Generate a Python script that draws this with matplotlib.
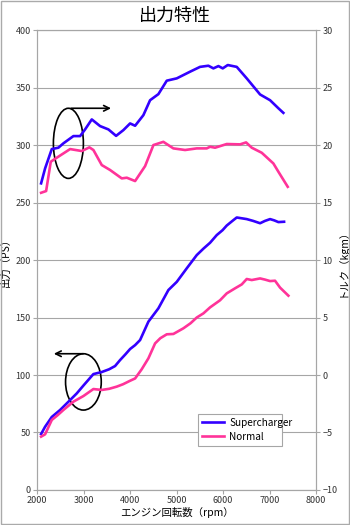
import matplotlib
matplotlib.use("Agg")
import matplotlib.pyplot as plt
from matplotlib.patches import Ellipse

plt.rcParams["font.family"] = ["Noto Sans CJK JP", "DejaVu Sans"]

# 出力 (PS)
sc_ps_rpm = [2086, 2172, 2316, 2495, 2680, 2853, 3000, 3211, 3391, 3550, 3677, 3785, 3900,
             4000, 4108, 4215, 4394, 4609, 4824, 5004, 5219, 5434, 5580, 5720, 5864, 5990,
             6079, 6200, 6294, 6509, 6650, 6796, 6900, 7011, 7100, 7190, 7312]
sc_ps = [48.7, 55, 63.5, 69.6, 77, 84, 91, 100.8, 102.6, 105, 107.8, 113, 118,
         122.6, 126, 130.4, 146.4, 158, 173.9, 181, 192.8, 204.3, 210, 215, 221.7, 226,
         230, 234, 237, 235.6, 234, 232, 234, 235.6, 234.5, 233, 233.3]

nm_ps_rpm = [2086, 2172, 2316, 2440, 2566, 2781, 2996, 3211, 3391, 3550, 3714, 3850, 4000,
             4108, 4250, 4394, 4538, 4650, 4789, 4931, 5146, 5300, 5434, 5577, 5720, 5935,
             6079, 6258, 6402, 6509, 6617, 6796, 6900, 7011, 7118, 7226, 7405]
nm_ps = [46.4, 48.4, 60.9, 65, 69.6, 76.8, 81.7, 87.8, 87, 88, 89.9, 92, 95,
         97, 105, 114.5, 127.5, 132, 135.4, 135.7, 140.6, 145, 150, 153.6, 158.8, 165,
         171, 175.4, 178.8, 183.5, 182.6, 184, 183, 181.7, 182, 176, 169]

# トルク (kgm)
sc_tq_rpm = [2086, 2172, 2316, 2458, 2566, 2781, 2925, 3032, 3176, 3355, 3534, 3699, 3856,
             4000, 4108, 4286, 4430, 4609, 4789, 5004, 5290, 5505, 5684, 5792, 5900, 5993,
             6101, 6294, 6509, 6796, 7011, 7190, 7297]
sc_tq = [16.67, 17.97, 19.65, 19.77, 20.15, 20.78, 20.78, 21.36, 22.23, 21.65, 21.36, 20.8, 21.3,
         21.88, 21.68, 22.6, 23.9, 24.43, 25.6, 25.8, 26.38, 26.8, 26.9, 26.67, 26.87, 26.67,
         26.96, 26.8, 25.8, 24.4, 23.9, 23.2, 22.8]

nm_tq_rpm = [2086, 2194, 2294, 2423, 2710, 2961, 3125, 3211, 3391, 3570, 3821, 3929, 4108,
             4323, 4502, 4716, 4931, 5183, 5434, 5649, 5720, 5828, 6079, 6366, 6495, 6617,
             6832, 7082, 7190, 7391]
nm_tq = [15.85, 16.0, 18.55, 18.9, 19.65, 19.48, 19.8, 19.57, 18.26, 17.83, 17.1, 17.16, 16.87,
         18.17, 20.0, 20.28, 19.71, 19.57, 19.71, 19.71, 19.85, 19.77, 20.09, 20.06, 20.23, 19.77,
         19.33, 18.4, 17.68, 16.37]

blue = "#3300ff"
pink = "#ff3399"
grid_c = "#a6a6a6"

fig = plt.figure(figsize=(3.5, 5.25), dpi=100)
fig.patches.append(plt.Rectangle((0.003, 0.002), 0.994, 0.996, transform=fig.transFigure,
                                 fill=False, edgecolor="#aaaaaa", linewidth=1.0))
ax = fig.add_axes([0.106, 0.0667, 0.797, 0.876])
ax2 = ax.twinx()

ax.plot(sc_ps_rpm, sc_ps, color=blue, lw=1.9, label="Supercharger")
ax.plot(nm_ps_rpm, nm_ps, color=pink, lw=1.9, label="Normal")
ax2.plot(sc_tq_rpm, sc_tq, color=blue, lw=1.9)
ax2.plot(nm_tq_rpm, nm_tq, color=pink, lw=1.9)

ax.set_xlim(2000, 8000)
ax.set_ylim(0, 400)
ax2.set_ylim(-10, 30)
ax.set_xticks(range(2000, 8001, 1000))
ax.set_yticks(range(0, 401, 50))
ax2.set_yticks(range(-10, 31, 5))
ax.yaxis.grid(True, color=grid_c, lw=0.8)
ax.set_axisbelow(True)

for a in (ax, ax2):
    for s in a.spines.values():
        s.set_color(grid_c)
    a.tick_params(labelsize=6.5, colors=grid_c, labelcolor="#333333", length=3, width=0.8, pad=1.5)

ax.set_xlabel("エンジン回転数（rpm）", fontsize=7.5, labelpad=1)
ax.set_ylabel("出力（PS）", fontsize=7.5)
ax2.set_ylabel("トルク（kgm）", fontsize=7.5)
ax.yaxis.set_label_coords(-0.095, 0.5)
ax2.yaxis.set_label_coords(1.075, 0.5)
fig.text(0.5, 1 - 16 / 525, "出力特性", fontsize=13, ha="center", va="center")

# 楕円と矢印
ax.add_patch(Ellipse((2673, 301.5), 645, 61, fill=False, edgecolor="black", lw=1.2))
ax.annotate("", xy=(3650, 332), xytext=(2673, 332),
            arrowprops=dict(arrowstyle="->", color="black", lw=1.2))
ax.add_patch(Ellipse((2996, 94), 768, 49, fill=False, edgecolor="black", lw=1.2))
ax.annotate("", xy=(2300, 118.5), xytext=(3050, 118.5),
            arrowprops=dict(arrowstyle="->", color="black", lw=1.2))

leg = ax.legend(loc="lower left", bbox_to_anchor=(0.56, 0.085, 0.337, 0.07), mode="expand",
                fontsize=7.2, fancybox=False, framealpha=1, edgecolor=grid_c,
                handlelength=2.2, borderpad=0.4, labelspacing=0.4, handletextpad=0.5)
leg.get_frame().set_linewidth(0.8)

plt.savefig("out.png", dpi=100)
